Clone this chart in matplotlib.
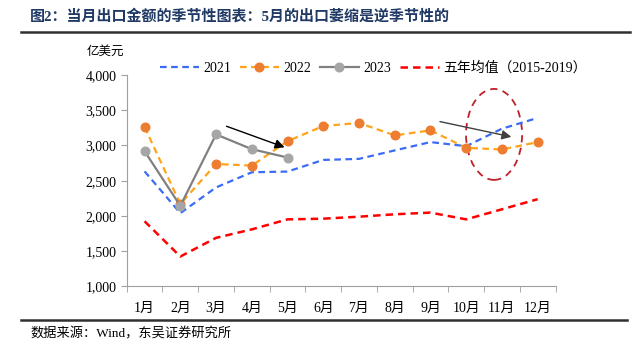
import matplotlib
matplotlib.use('Agg')
from matplotlib import pyplot as plt
from matplotlib.patches import Ellipse
import numpy as np

plt.rcParams['font.family'] = ['Liberation Serif', 'Noto Sans CJK SC']

months = ['1月', '2月', '3月', '4月', '5月', '6月', '7月', '8月', '9月', '10月', '11月', '12月']
y2021 = [2633, 2040, 2405, 2620, 2630, 2795, 2810, 2930, 3048, 2990, 3238, 3391]
y2022 = [3262, 2170, 2738, 2714, 3061, 3276, 3320, 3143, 3214, 2967, 2943, 3048]
y2023 = [2919, 2143, 3157, 2948, 2829]
avg5 = [1925, 1425, 1690, 1810, 1952, 1962, 1990, 2024, 2048, 1952, 2095, 2238]

x = np.arange(len(months))

fig = plt.figure(figsize=(6.4, 3.57), dpi=100)
ax = fig.add_axes([0.198, 0.1975, 0.670, 0.5925])

ax.plot(x, y2021, color='#3b6cf5', linestyle=(0, (3, 2)), linewidth=1.6, label='2021')
ax.plot(x, y2022, color='#ffa31a', linestyle=(0, (3, 2)), linewidth=1.6,
        marker='o', markersize=6.2, markerfacecolor='#ed7d31', markeredgecolor='#ed7d31', label='2022')
ax.plot(x[:len(y2023)], y2023, color='#808080', linewidth=1.6,
        marker='o', markersize=6.2, markerfacecolor='#a6a6a6', markeredgecolor='#a6a6a6', label='2023')
ax.plot(x, avg5, color='#ff0000', linestyle=(0, (3, 2)), linewidth=1.8, label='五年均值（2015-2019）')

# arrows
ax.annotate('', xy=(3.99, 2961), xytext=(2.22, 3286),
            arrowprops=dict(arrowstyle='-|>', color='black', lw=1, mutation_scale=14))
ax.annotate('', xy=(10.34, 3114), xytext=(8.19, 3347),
            arrowprops=dict(arrowstyle='-|>', color='#404040', lw=1, mutation_scale=14))
ax.add_patch(Ellipse((9.78, 3157), 1.57, 1290, fill=False, edgecolor='#c0202a',
                     linestyle=(0, (4, 3)), linewidth=1.3))

ax.set_xlim(-0.5, 11.5)
ax.set_ylim(1000, 4000)
ax.set_yticks(np.arange(1000, 4001, 500))
ax.set_yticklabels([f'{v:,}' for v in range(1000, 4001, 500)])
ax.set_xticks(x)
ax.set_xticklabels(months)
ax.set_xticks(np.arange(-0.5, 12, 1), minor=True)
ax.tick_params(axis='x', which='major', length=0, pad=11, labelsize=10)
ax.tick_params(axis='x', which='minor', length=4, color='#a0a0a0')
ax.tick_params(axis='y', length=4, color='#a0a0a0', labelsize=10)
for s in ['top', 'right']:
    ax.spines[s].set_visible(False)
for s in ['left', 'bottom']:
    ax.spines[s].set_color('#a0a0a0')

fig.legend(*ax.get_legend_handles_labels(), loc='center left',
           bbox_to_anchor=(152.7 / 640, 0.81), ncol=4, frameon=False, borderpad=0,
           fontsize=10, handlelength=2.8, columnspacing=0.6, handletextpad=0.36)

fig.text(30 / 640, 0.955, '图2：当月出口金额的季节性图表：5月的出口萎缩是逆季节性的',
         fontsize=10.8, fontweight='bold', color='#1f3864', va='center')
fig.add_artist(plt.Line2D([0.033, 0.985], [0.910, 0.910], color='#303030', linewidth=1.8))
fig.text(87 / 640, 1 - 52 / 357, '亿美元', fontsize=9, va='center')
fig.add_artist(plt.Line2D([0.033, 0.98], [0.105, 0.105], color='#303030', linewidth=1.8))
fig.text(30 / 640, 1 - 334 / 357, '数据来源：Wind，东吴证券研究所', fontsize=9.5, va='center')

fig.savefig('out.png')
